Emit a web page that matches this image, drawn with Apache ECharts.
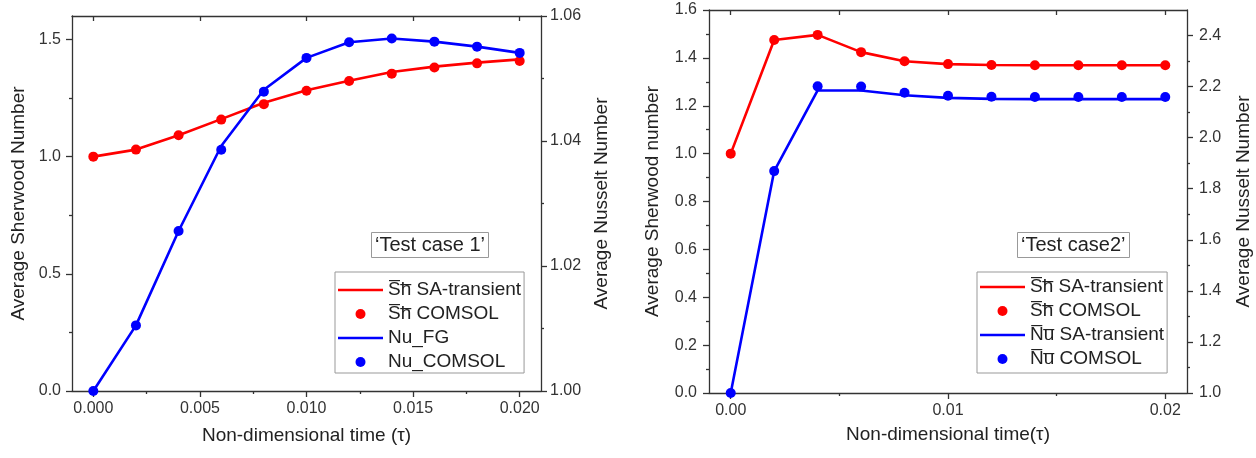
<!DOCTYPE html>
<html>
<head>
<meta charset="utf-8">
<script src="https://cdn.jsdelivr.net/npm/echarts@6/dist/echarts.min.js"></script>
<style>
html,body{margin:0;padding:0;background:#fff;}
#c{width:1256px;height:458px;}
</style>
</head>
<body>
<div id="c"></div>
<script>
// ---------- data ----------
const tau = [0, 0.002, 0.004, 0.006, 0.008, 0.010, 0.012, 0.014, 0.016, 0.018, 0.020];

// Test case 1
const sh1Line   = [1.000, 1.030, 1.091, 1.160, 1.230, 1.283, 1.324, 1.361, 1.384, 1.401, 1.415];
const sh1Comsol = [1.000, 1.030, 1.091, 1.158, 1.224, 1.281, 1.323, 1.354, 1.380, 1.398, 1.408];
const nu1Line   = [1.0000, 1.0105, 1.0256, 1.0392, 1.0482, 1.0533, 1.0558, 1.0564, 1.0559, 1.0551, 1.0541];
const nu1Comsol = [1.0000, 1.0105, 1.0256, 1.0386, 1.0479, 1.0533, 1.0558, 1.0564, 1.0559, 1.0551, 1.0541];

// Test case 2
const sh2Line   = [1.000, 1.475, 1.496, 1.424, 1.386, 1.374, 1.370, 1.369, 1.369, 1.369, 1.369];
const sh2Comsol = [1.000, 1.475, 1.496, 1.424, 1.386, 1.374, 1.370, 1.369, 1.369, 1.369, 1.369];
const nu2Line   = [1.000, 1.869, 2.185, 2.185, 2.166, 2.156, 2.152, 2.151, 2.151, 2.151, 2.151];
const nu2Comsol = [1.000, 1.869, 2.201, 2.200, 2.176, 2.164, 2.160, 2.159, 2.159, 2.159, 2.159];

// tick values
const x1Major = [0, 0.005, 0.010, 0.015, 0.020];
const x1Minor = [0.0025, 0.0075, 0.0125, 0.0175];
const x1Top   = [0, 0.005, 0.010, 0.015, 0.020];
const y1LMajor = [0, 0.5, 1.0, 1.5];
const y1LMinor = [0.25, 0.75, 1.25];
const y1RMajor = [1.00, 1.02, 1.04, 1.06];
const y1RMinor = [1.01, 1.03, 1.05];

const x2Major = [0, 0.01, 0.02];
const x2Minor = [0.005, 0.015];
const x2Top   = [0, 0.005, 0.01, 0.015, 0.02];
const y2LMajor = [0, 0.2, 0.4, 0.6, 0.8, 1.0, 1.2, 1.4, 1.6];
const y2LMinor = [0.1, 0.3, 0.5, 0.7, 0.9, 1.1, 1.3, 1.5];
const y2RMajor = [1.0, 1.2, 1.4, 1.6, 1.8, 2.0, 2.2, 2.4];
const y2RMinor = [1.1, 1.3, 1.5, 1.7, 1.9, 2.1, 2.3];

// legend labels
const legend1 = ['S\u0305h\u0305 SA-transient', 'S\u0305h\u0305 COMSOL', 'Nu_FG', 'Nu_COMSOL'];
const legend2 = ['S\u0305h\u0305 SA-transient', 'S\u0305h\u0305 COMSOL', 'N\u0305u\u0305 SA-transient', 'N\u0305u\u0305 COMSOL'];
const caseLabels = ['\u2018Test case 1\u2019', '\u2018Test case2\u2019'];

// ---------- styling ----------
const FONT = '"Liberation Sans", Arial, sans-serif';
const AX = '#333';
const RED = '#ff0000';
const BLUE = '#0000ff';
const LINE_ICON = 'path://M0,0 L45,0 L45,2.6 L0,2.6 Z';

function pairs(xs, ys) { return xs.map((x, i) => [x, ys[i]]); }

function xAxes(grid, min, max, major, minor, top, dec, name, gap) {
  return [
    { type: 'value', gridIndex: grid, position: 'bottom', min, max,
      name, nameLocation: 'middle', nameGap: gap,
      nameTextStyle: { fontFamily: FONT, fontSize: 19, color: '#222' },
      axisLine: { show: true, onZero: false, lineStyle: { color: AX, width: 1.3 } },
      axisTick: { show: true, length: 6, customValues: major, lineStyle: { color: AX, width: 1.3 } },
      axisLabel: { show: true, customValues: major, margin: 10, fontFamily: FONT, fontSize: 16, color: '#333',
                   formatter: v => v.toFixed(dec) },
      splitLine: { show: false } },
    { type: 'value', gridIndex: grid, position: 'bottom', min, max,
      axisLine: { show: false, onZero: false },
      axisTick: { show: true, length: 3, customValues: minor, lineStyle: { color: AX, width: 1.3 } },
      axisLabel: { show: false }, splitLine: { show: false } },
    { type: 'value', gridIndex: grid, position: 'top', min, max,
      axisLine: { show: true, onZero: false, lineStyle: { color: AX, width: 1.3 } },
      axisTick: { show: true, inside: true, length: 5, customValues: top, lineStyle: { color: AX, width: 1.3 } },
      axisLabel: { show: false }, splitLine: { show: false } }
  ];
}

function yAxes(grid, pos, min, max, major, minor, dec, name, gap, margin) {
  return [
    { type: 'value', gridIndex: grid, position: pos, min, max,
      name, nameLocation: 'middle', nameGap: gap,
      nameTextStyle: { fontFamily: FONT, fontSize: 19, color: '#222' },
      axisLine: { show: true, onZero: false, lineStyle: { color: AX, width: 1.3 } },
      axisTick: { show: true, length: 6, customValues: major, lineStyle: { color: AX, width: 1.3 } },
      axisLabel: { show: true, customValues: major, margin, fontFamily: FONT, fontSize: 16, color: '#333',
                   formatter: v => v.toFixed(dec) },
      splitLine: { show: false } },
    { type: 'value', gridIndex: grid, position: pos, min, max,
      axisLine: { show: false, onZero: false },
      axisTick: { show: true, length: 3, customValues: minor, lineStyle: { color: AX, width: 1.3 } },
      axisLabel: { show: false }, splitLine: { show: false } }
  ];
}

const xAxis = [
  ...xAxes(0, -0.001, 0.021, x1Major, x1Minor, x1Top, 3, 'Non-dimensional time (\u03c4)', 35),   // 0,1,2
  ...xAxes(1, -0.001, 0.021, x2Major, x2Minor, x2Top, 2, 'Non-dimensional time(\u03c4)', 32)      // 3,4,5
];
const yAxis = [
  ...yAxes(0, 'left', 0, 1.6, y1LMajor, y1LMinor, 1, 'Average Sherwood Number', 44, 11),   // 0,1
  ...yAxes(0, 'right', 1.0, 1.06, y1RMajor, y1RMinor, 2, 'Average Nusselt Number', 51, 9),  // 2,3
  ...yAxes(1, 'left', 0, 1.6, y2LMajor, y2LMinor, 1, 'Average Sherwood number', 47, 12),   // 4,5
  ...yAxes(1, 'right', 1.0, 2.5, y2RMajor, y2RMinor, 1, 'Average Nusselt Number', 47, 12)    // 6,7
];

function lineS(name, x, y, data, color) {
  return { type: 'line', name, xAxisIndex: x, yAxisIndex: y, data, symbol: 'none',
           lineStyle: { color, width: 2.6 }, itemStyle: { color }, z: 2, animation: false };
}
function dotS(name, x, y, data, color) {
  return { type: 'scatter', name, xAxisIndex: x, yAxisIndex: y, data, symbol: 'circle', symbolSize: 10,
           itemStyle: { color, opacity: 1 }, z: 3, animation: false };
}

const series = [
  lineS(legend1[0], 0, 0, pairs(tau, sh1Line), RED),
  dotS(legend1[1], 0, 0, pairs(tau, sh1Comsol), RED),
  lineS(legend1[2], 0, 2, pairs(tau, nu1Line), BLUE),
  dotS(legend1[3], 0, 2, pairs(tau, nu1Comsol), BLUE),
  lineS(legend2[0], 3, 4, pairs(tau, sh2Line), RED),
  dotS(legend2[1], 3, 4, pairs(tau, sh2Comsol), RED),
  lineS(legend2[2], 3, 6, pairs(tau, nu2Line), BLUE),
  dotS(legend2[3], 3, 6, pairs(tau, nu2Comsol), BLUE)
];

function legendBox(names, left, padding) {
  const data = names.map((n, i) => (i % 2 === 0 ? { name: n, icon: LINE_ICON } : { name: n, icon: 'circle' }));
  return { data, left, top: 272, orient: 'vertical', itemWidth: 45, itemHeight: 10, itemGap: 4,
           padding, borderColor: '#999', borderWidth: 1, backgroundColor: '#fff',
           selectedMode: false,
           textStyle: { fontFamily: FONT, fontSize: 19, color: '#222', lineHeight: 20 } };
}
function caseBox(text, left) {
  return { text, left, top: 232, padding: [3, 4, 3, 4], borderColor: '#999', borderWidth: 1,
           backgroundColor: '#fff',
           textStyle: { fontFamily: FONT, fontSize: 20, fontWeight: 'normal', color: '#222' } };
}

const option = {
  backgroundColor: '#fff',
  animation: false,
  grid: [
    { left: 72, top: 16, width: 469, height: 375 },
    { left: 709, top: 10, width: 478, height: 383 }
  ],
  title: [caseBox(caseLabels[0], 371), caseBox(caseLabels[1], 1017)],
  legend: [legendBox(legend1, 335, [8, 3, 1, 3]), legendBox(legend2, 977, [5, 3, 4, 3])],
  xAxis, yAxis, series
};

const chart = echarts.init(document.getElementById('c'), null, { renderer: 'canvas' });
chart.setOption(option);
</script>
</body>
</html>
